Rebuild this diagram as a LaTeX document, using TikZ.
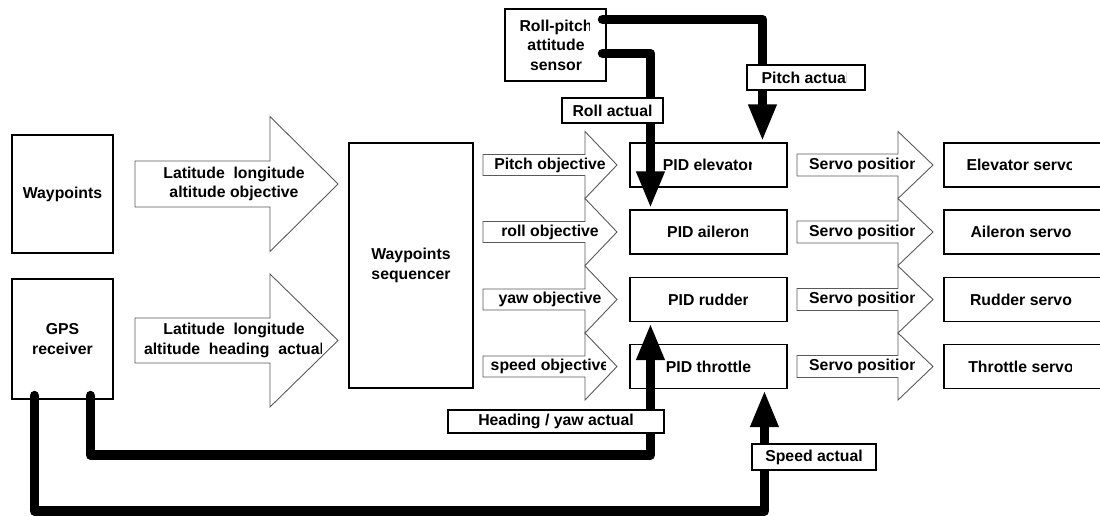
\documentclass[tikz,border=0pt]{standalone}
\usepackage{fontspec}
\setmainfont{Liberation Sans}
\usetikzlibrary{arrows.meta,calc}

\newcommand\lblfont{\fontsize{15.8}{19.5}\selectfont\bfseries}
% block arrow: left x, centre y, head base x, tip x, shaft half height, head half height
\newcommand\blockarrow[6]{%
  \draw[barrow] (#1,{#2-#5}) -- (#3,{#2-#5}) -- (#3,{#2-#6}) -- (#4,#2)
    -- (#3,{#2+#6}) -- (#3,{#2+#5}) -- (#1,{#2+#5}) -- cycle;}
% text cut off at a given right edge: edge x, name, position, options, text
\newcommand\cliplabel[5]{%
  \begin{scope}\clip (0,0) rectangle (#1,515);
    \node[txt,#4] (#2) at #3 {#5};
  \end{scope}}

\begin{document}
\begin{tikzpicture}[x=1pt,y=-1pt,
  box/.style={draw,line width=1.1pt,fill=white,inner sep=0pt,font=\lblfont,align=center},
  txt/.style={font=\lblfont,align=center,inner sep=0pt},
  barrow/.style={draw=black!65,line width=0.9pt,fill=white,line join=miter},
  wire/.style={line width=9.5pt,line join=round,line cap=round,
    -{Triangle[width=26pt,length=37pt]}}]
\useasboundingbox (0,0) rectangle (1100,515);

% sources and sequencer
\node[box,minimum width=101pt,minimum height=118pt] (wp) at (62.5,194) {Waypoints};
\node[box,minimum width=101pt,minimum height=120pt] (gps) at (62.5,339) {GPS\\receiver};
\node[box,minimum width=124pt,minimum height=245pt] (seq) at (411,265.5) {Waypoints\\sequencer};
\node[box,minimum width=101pt,minimum height=72pt] (sensor) at (555.5,45) {};
\cliplabel{589}{sensortxt}{(556,45)}{}{Roll-pitch\\attitude\\sensor}

% large block arrows into the sequencer
\blockarrow{135}{184}{270}{338}{23}{67.5}
\node[txt] (llobj) at (234,184) {Latitude\ \ longitude\\altitude objective};
\blockarrow{135}{340.5}{270}{338}{22.5}{66.5}
\cliplabel{321}{llact}{(234,340.5)}{}{Latitude\ \ longitude\\altitude\ \ heading\ \ actual}

% objective arrows, PID controllers, servo commands, servos
\foreach \i/\y/\obj/\pid/\pcut/\srv in {1/165/Pitch objective/PID elevator/751/Elevator servo,
    2/232/roll objective/PID aileron/747/Aileron servo,
    3/299.5/yaw objective/PID rudder/747/Rudder servo,
    4/366.5/speed objective/PID throttle/753/Throttle servo}{
  \blockarrow{483}{\y}{585}{617}{10.5}{33.5}
  \cliplabel{605}{obj\i}{(550,\y)}{}{\obj}
  \node[box,minimum width=157pt,minimum height=44pt] (pid\i) at (708.5,\y) {};
  \cliplabel{\pcut}{pidtxt\i}{(708.5,\y)}{}{\pid}
  \blockarrow{797}{\y}{898}{933}{11}{33.5}
  \cliplabel{914}{pos\i}{(809,\y)}{anchor=west}{Servo position}
  \node[box,minimum width=166pt,minimum height=44pt] (srv\i) at (1027,\y) {};
  \cliplabel{1071}{srvtxt\i}{(1021,\y)}{}{\srv}
}

% feedback wires
\draw[wire] ($(sensor.north east)+(-4,11)$) -| ($(pid1.north west)+(133,-1)$);
\draw[wire] ($(sensor.north east)+(-4,45)$) -| ($(pid2.north west)+(21,-1)$);
\draw[wire] ($(gps.south west)+(79,-4)$) |- ($(pid3.south west)+(21,133)$)
  -- ($(pid3.south west)+(21,1)$);
\draw[wire] ($(gps.south west)+(23,-4)$) |- ($(pid4.south west)+(135,122)$)
  -- ($(pid4.south west)+(135,1)$);

% wire labels
\node[box,minimum width=118pt,minimum height=25pt] (pitchlbl) at (806,77.5) {};
\cliplabel{846}{pitchtxt}{(806,77.5)}{}{Pitch actual}
\node[box,minimum width=101pt,minimum height=25pt] (rolllbl) at (612.5,110.5) {Roll actual};
\node[box,minimum width=216pt,minimum height=23pt] (headlbl) at (556,421.5) {Heading / yaw actual};
\node[box,minimum width=124pt,minimum height=26pt] (speedlbl) at (814,457) {Speed actual};
\end{tikzpicture}
\end{document}
